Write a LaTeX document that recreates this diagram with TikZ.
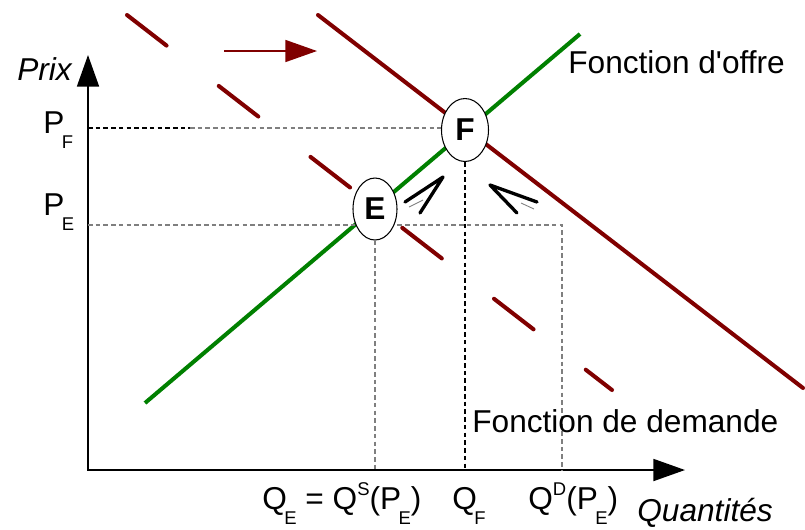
\documentclass[tikz,border=0pt]{standalone}
\usepackage{fontspec}
\setmainfont{Liberation Sans}
\usetikzlibrary{arrows.meta,positioning,calc,shapes.geometric}
\definecolor{offre}{HTML}{008000}
\definecolor{demande}{HTML}{800000}
\definecolor{guidegray}{HTML}{7F7F7F}
\newcommand{\lowidx}[1]{\kern-1.5pt\raisebox{-9pt}{\fontsize{10.5}{11}\selectfont #1}}
\newcommand{\upidx}[1]{\raisebox{7.5pt}{\fontsize{10.5}{11}\selectfont #1}}
\tikzset{axis/.style={line width=1.1pt,{Triangle[length=18pt,width=12.5pt]}-{Triangle[length=18pt,width=12.5pt]}},
  supply/.style={draw=offre,line width=2.3pt},
  demandline/.style={draw=demande,line width=2.3pt,line cap=round},
  guide/.style={draw=guidegray,line width=0.6pt,dash pattern=on 2.6pt off 1.8pt},
  eqpoint/.style={ellipse,draw,fill=white,line width=0.6pt,inner sep=0pt,font=\fontsize{18}{20}\selectfont\bfseries},
  shiftarrow/.style={draw=demande,line width=0.9pt,-{Triangle[length=18pt,width=12.5pt]}},
  chev/.style={line width=1.9pt,line cap=round,line join=round},
  lbl/.style={anchor=base west,inner sep=0pt,font=\fontsize{18}{21}\selectfont}}

\begin{document}
\begin{tikzpicture}[x=0.02cm,y=-0.02cm]
\useasboundingbox (0,0) rectangle (805,529);
% axes
\coordinate (O) at (88,470);
\coordinate (ytop) at (88,55);
\coordinate (xend) at (685,470);
\draw[axis] (ytop) -- (O) -- (xend);
% curves
\coordinate (s1) at (145,403);
\coordinate (s2) at (580,34);
\coordinate (d1) at (318,15);
\coordinate (d2) at (803,388);
\coordinate (dd1) at (127,15);
\coordinate (dd2) at (612,390);
\draw[demandline,dash pattern=on 1.0cm off 1.32cm] (dd1) -- (dd2);
\draw[demandline] (d1) -- (d2);
\draw[supply] (s1) -- (s2);
% guides
\coordinate (pf) at (88,128);
\coordinate (pfg) at (190,128);
\coordinate (pe) at (88,225);
\coordinate (qd) at (562,225);
\draw[guide] (pe) -- (qd) -- (qd |- O);
\node[eqpoint,minimum width=0.94cm,minimum height=1.26cm] (F) at (465,130) {F};
\node[eqpoint,minimum width=0.88cm,minimum height=1.24cm] (E) at (375,209) {E};
\draw[guide,draw=black] (pf) -- (pfg);
\draw[guide] (pfg) -- (F.west |- pfg);
\draw[guide] (E.south) -- (E.south |- O);
\draw[guide,draw=black] (F.south) -- (F.south |- O);
% shift of demand
\coordinate (sh1) at (224,51);
\coordinate (sh2) at (317,51);
\draw[shiftarrow] (sh1) -- (sh2);
% adjustment arrows
\draw[chev] (405,202) -- (443,177) -- (420,213);
\draw[chev] (537,202) -- (490,185) -- (517,213);
\draw[guidegray,line width=0.5pt] (409,207) -- (423,200);
\draw[guidegray,line width=0.5pt] (534,209) -- (521,203);
% labels
\node[lbl,font=\fontsize{18}{21}\selectfont\itshape] (prix) at (17,80) {Prix};
\node[lbl] (lpf) at (43,133) {P\lowidx{F}};
\node[lbl] (lpe) at (43,215) {P\lowidx{E}};
\node[lbl] (lqe) at (262,509) {Q\lowidx{E} = Q\upidx{S}(P\lowidx{E})};
\node[lbl] (lqf) at (452,509) {Q\lowidx{F}};
\node[lbl] (lqd) at (528,509) {Q\upidx{D}(P\lowidx{E})};
\node[lbl,font=\fontsize{18}{21}\selectfont\itshape] (quant) at (637,521) {Quantités};
\node[lbl] (loffre) at (568,73) {Fonction d\textquotesingle offre};
\node[lbl] (ldemande) at (472,432) {Fonction de demande};
\end{tikzpicture}
\end{document}
